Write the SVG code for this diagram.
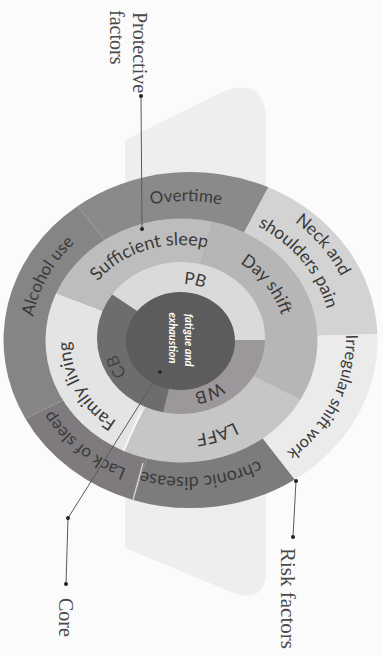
<svg xmlns="http://www.w3.org/2000/svg" xmlns:xlink="http://www.w3.org/1999/xlink" width="383" height="656" viewBox="0 0 383 656">
<style>
.lbl{font-family:Lato,"Open Sans",sans-serif;font-size:17px;fill:#3a3a3a}
.ann{font-family:"Liberation Serif",serif;font-size:20px;fill:#4a4a4a}
.ctr{font-family:Lato,"Open Sans",sans-serif;font-weight:bold;font-style:italic;font-size:11px;fill:#ffffff}
.conn{stroke:#5a5a5a;stroke-width:1;fill:none}
.dot{fill:#222}
</style>
<defs>
<path id="tOver" d="M41.3,292.5 A154,139 0 0 1 330.7,292.5"/>
<path id="tNeck1" d="M141.9,191.9 A170,153.2 0 0 1 325.3,427.8"/>
<path id="tNeck2" d="M148.5,213.8 A145,130.6 0 0 1 304.8,414.9"/>
<path id="tIrr" d="M295.1,234.6 A160,144.1 0 0 1 177.6,483.9"/>
<path id="tChr" d="M333.5,372.9 A152,137 0 0 1 49.5,400.3"/>
<path id="tLack" d="M255.2,464.9 A155,139.6 0 0 1 43.8,284.3"/>
<path id="tAlc" d="M76.4,438.7 A155,139.6 0 0 1 199.5,200.9"/>
<path id="tSuf" d="M75,340 A106,95 0 0 1 262.2,278.9"/>
<path id="tDay" d="M157.2,249.2 A104,93.3 0 0 1 264.3,395.9"/>
<path id="tLaff" d="M287,338.7 A106,95 0 0 1 100.8,402.1"/>
<path id="tFam" d="M192.5,438.7 A110,98.6 0 0 1 101.9,271.5"/>
<path id="tPB" d="M130.2,308.5 A61,55.2 0 0 1 241.6,332.8"/>
<path id="tWB" d="M241.4,331.3 A61,55.2 0 0 1 140.2,380"/>
<path id="tCB" d="M184.4,398.7 A66,59.7 0 0 1 136,295.3"/>
</defs>
<rect width="383" height="656" fill="#fbfbfb"/>
<path d="M125,140 L222,92 Q264,76 266,118 L266,570 Q266,602 236,594 L125,548 Z" fill="#eeeeee"/>

<g id="outer-ring">
<g id="overtime"><path d="M186,340 L77.4,206.2 A187,168 0 0 1 268.4,187.3 Z" fill="#8a8a8a"/><text class="lbl"><textPath href="#tOver" xlink:href="#tOver" startOffset="50%" text-anchor="middle">Overtime</textPath></text></g>
<g id="neck-shoulders"><path d="M186,340 L268.4,187.3 A187,168 0 0 1 377.4,334 Z" fill="#d3d3d3"/><text class="lbl" style="font-size:17.5px"><textPath href="#tNeck1" xlink:href="#tNeck1" startOffset="50%" text-anchor="middle">Neck and</textPath></text><text class="lbl" style="font-size:17.5px"><textPath href="#tNeck2" xlink:href="#tNeck2" startOffset="50%" text-anchor="middle">shoulders pain</textPath></text></g>
<g id="chronic-disease"><path d="M186,340 L294.9,479.4 A187,168 0 0 1 133,499.9 Z" fill="#7c7c7c"/><text class="lbl" style="font-size:18px"><textPath href="#tChr" xlink:href="#tChr" startOffset="50%" text-anchor="middle">chronic disease</textPath></text></g>
<g id="irregular-shift"><path d="M186,340 L377.4,334 A187,168 0 0 1 294.9,479.4 Z" fill="#ebebeb"/><text class="lbl" style="font-size:16.5px"><textPath href="#tIrr" xlink:href="#tIrr" startOffset="50%" text-anchor="middle">Irregular shift work</textPath></text></g>
<g id="lack-of-sleep"><path d="M186,340 L133,499.9 A187,168 0 0 1 25.4,418.8 Z" fill="#7e7a7d"/><text class="lbl"><textPath href="#tLack" xlink:href="#tLack" startOffset="50%" text-anchor="middle">Lack of sleep</textPath></text></g>
<g id="alcohol-use"><path d="M186,340 L25.4,418.8 A187,168 0 0 1 77.4,206.2 Z" fill="#858585"/><text class="lbl"><textPath href="#tAlc" xlink:href="#tAlc" startOffset="50%" text-anchor="middle">Alcohol use</textPath></text></g>
</g>

<g id="middle-ring">
<g id="sufficient-sleep"><path d="M180,340 L56.1,293.2 A136,122 0 0 1 212.8,221.8 Z" fill="#bdbdbd"/><text class="lbl" style="font-size:18px"><textPath href="#tSuf" xlink:href="#tSuf" startOffset="50%" text-anchor="middle">Sufficient sleep</textPath></text></g>
<g id="day-shift"><path d="M180,340 L212.8,221.8 A136,122 0 0 1 300.2,400 Z" fill="#b6b6b6"/><text class="lbl" style="font-size:17.5px"><textPath href="#tDay" xlink:href="#tDay" startOffset="50%" text-anchor="middle">Day shift</textPath></text></g>
<g id="laff"><path d="M180,340 L300.2,400 A136,122 0 0 1 123.6,450.9 Z" fill="#c6c6c6"/><text class="lbl" style="font-size:17.5px"><textPath href="#tLaff" xlink:href="#tLaff" startOffset="50%" text-anchor="middle">LAFF</textPath></text></g>
<g id="family-living"><path d="M180,340 L123.6,450.9 A136,122 0 0 1 56.1,293.2 Z" fill="#e4e4e4"/><text class="lbl" style="font-size:18px"><textPath href="#tFam" xlink:href="#tFam" startOffset="50%" text-anchor="middle">Family living</textPath></text></g>
<path d="M123.6,450.9 L141,411" stroke="#f4f4f4" stroke-width="2.2" fill="none"/>
<path d="M133,499.9 L143,463" stroke="#d6d6d6" stroke-width="1.3" fill="none"/>
</g>

<g id="inner-ring">
<g id="pb"><path d="M181,340 L112.2,294.4 A84,76 0 0 1 264.97,340 Z" fill="#dadada"/><text class="lbl"><textPath href="#tPB" xlink:href="#tPB" startOffset="50%" text-anchor="middle">PB</textPath></text></g>
<g id="wb"><path d="M181,340 L264.97,340 A84,76 0 0 1 163.3,412.3 Z" fill="#9b979b"/><text class="lbl"><textPath href="#tWB" xlink:href="#tWB" startOffset="50%" text-anchor="middle">WB</textPath></text></g>
<g id="cb"><path d="M181,340 L163.3,412.3 A84,76 0 0 1 112.2,294.4 Z" fill="#6d6d6d"/><text class="lbl" style="fill:#444"><textPath href="#tCB" xlink:href="#tCB" startOffset="50%" text-anchor="middle">CB</textPath></text></g>
</g>

<g id="core">
<ellipse cx="180.5" cy="341" rx="54.5" ry="49" fill="#5c5c5c"/>
<text class="ctr" transform="translate(184.5,340) rotate(90)" text-anchor="middle">fatigue and</text>
<text class="ctr" transform="translate(168.5,338) rotate(90)" text-anchor="middle">exhaustion</text>
</g>

<g id="connectors">
<path class="conn" d="M141,96 L142,229"/>
<path class="conn" d="M296,481 L293,537"/>
<path class="conn" d="M160,372 L68,518 L66,584"/>
<circle class="dot" cx="141" cy="96" r="2"/>
<circle class="dot" cx="142" cy="229" r="2"/>
<circle class="dot" cx="296" cy="481" r="2"/>
<circle class="dot" cx="293" cy="537" r="2"/>
<circle class="dot" cx="160" cy="372" r="1.8"/>
<circle class="dot" cx="68" cy="518" r="2"/>
<circle class="dot" cx="66" cy="584" r="2"/>
</g>

<g id="annotations">
<text class="ann" transform="translate(133,12) rotate(90)">Protective</text>
<text class="ann" transform="translate(110,10) rotate(90)">factors</text>
<text class="ann" style="font-size:21px" transform="translate(281,548) rotate(90)">Risk factors</text>
<text class="ann" transform="translate(58.5,598) rotate(90)">Core</text>
</g>
</svg>
